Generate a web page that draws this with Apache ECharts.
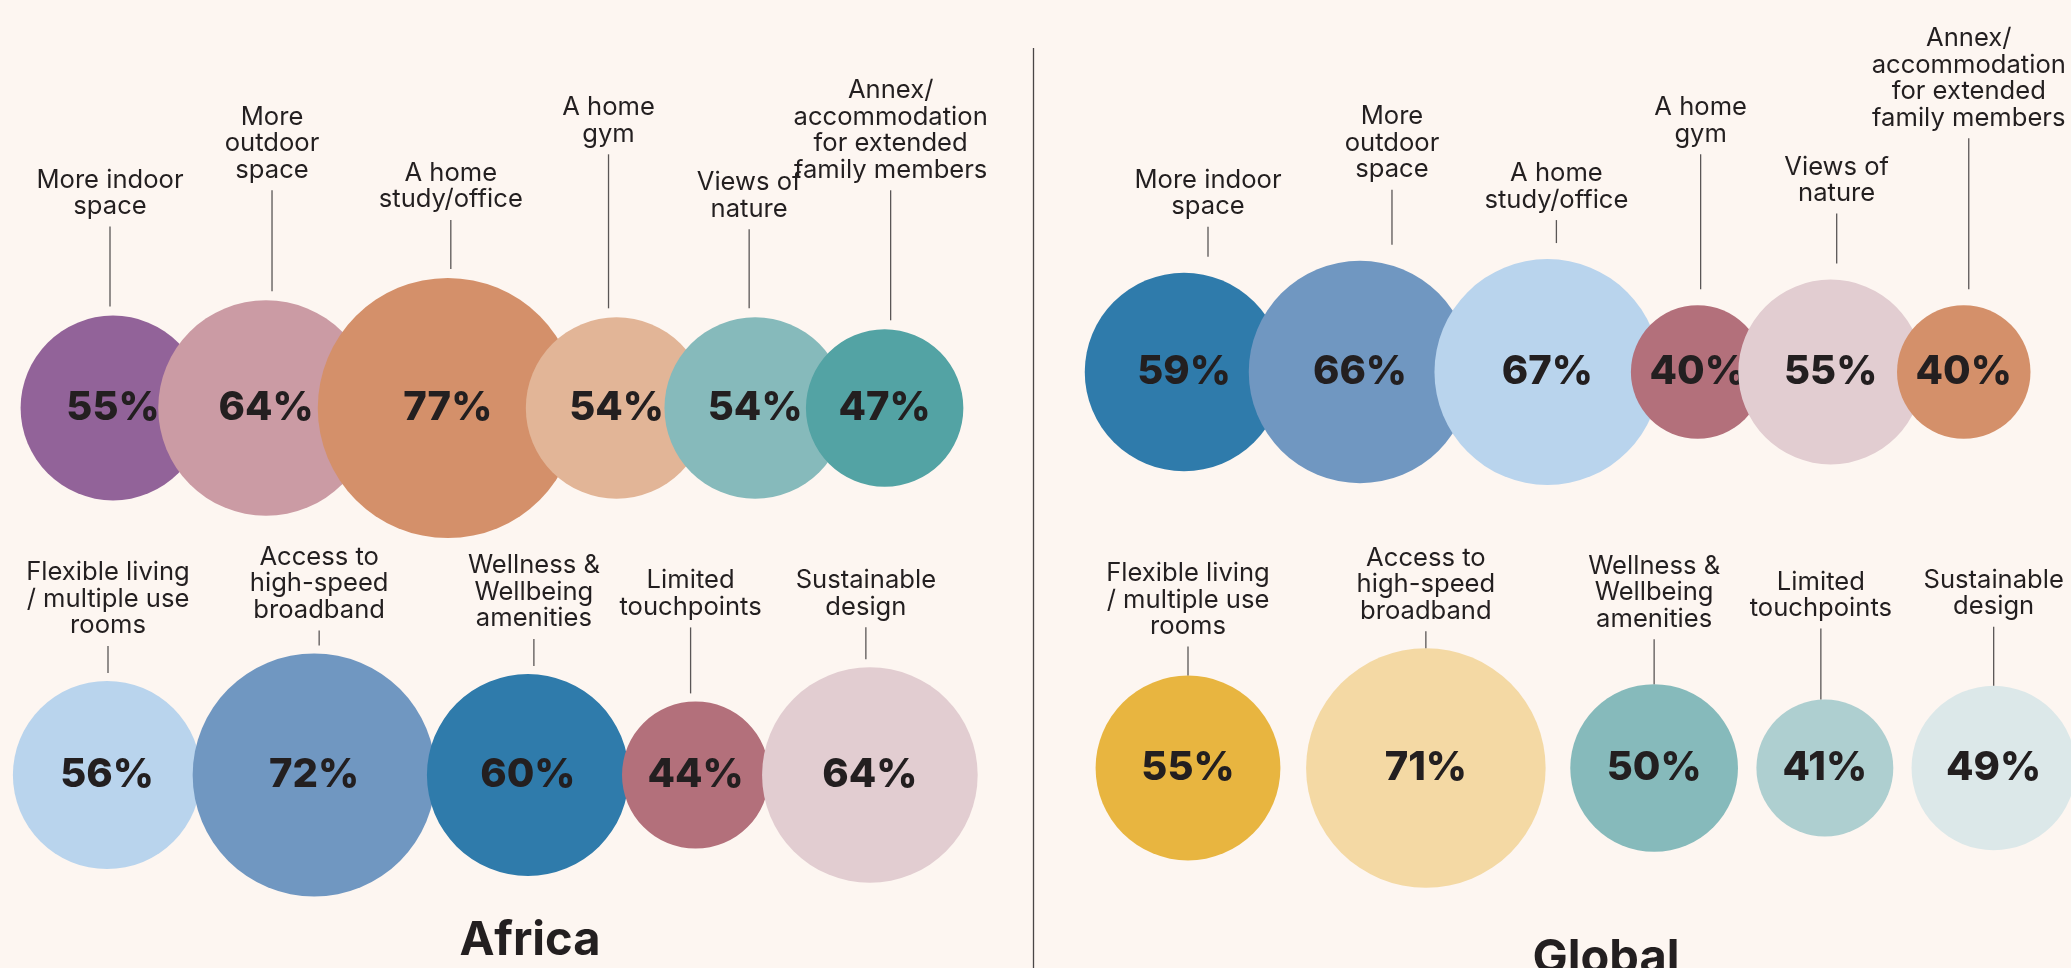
<!DOCTYPE html>
<html>
<head>
<meta charset="utf-8">
<script src="https://cdn.jsdelivr.net/npm/echarts@6/dist/echarts.min.js"></script>
<style>
html,body{margin:0;padding:0;background:#fdf6f1;}
#chart{width:2071px;height:968px;}
</style>
</head>
<body>
<div id="chart"></div>
<script>
// ---------------- DATA ----------------
const rowOneCategories = ['More indoor\nspace', 'More\noutdoor\nspace', 'A home\nstudy/office', 'A home\ngym', 'Views of\nnature', 'Annex/\naccommodation\nfor extended\nfamily members'];
const rowTwoCategories = ['Flexible living\n/ multiple use\nrooms', 'Access to\nhigh-speed\nbroadband', 'Wellness &\nWellbeing\namenities', 'Limited\ntouchpoints', 'Sustainable\ndesign'];
const africaRowOne = [55, 64, 77, 54, 54, 47];
const africaRowTwo = [56, 72, 60, 44, 64];
const globalRowOne = [59, 66, 67, 40, 55, 40];
const globalRowTwo = [55, 71, 50, 41, 49];
const panelTitles = ['Africa', 'Global'];

// ---------------- STYLE / LAYOUT ----------------
const W = 2071, H = 968;
const INK = '#231f20';
const radiusOf = v => 1.711 * v - 1.7;   // bubble radius (px) from percentage

const rows = [
  { cats: rowOneCategories, values: africaRowOne, startX: 113, cy: 408, pack: 0.7643, endGap: 9,
    lift: [102, 123, 71, 176, 101, 152], dx: [-3, 6, 3, -8, -6, 6],
    colors: ['#926399', '#cb9ba4', '#d4906a', '#e2b597', '#86babb', '#53a3a4'] },
  { cats: rowTwoCategories, values: africaRowTwo, startX: 107, cy: 775, pack: 0.9608, endGap: 8,
    lift: [48, 36, 48, 87, 53], dx: [1, 5, 6, -5, -4],
    colors: ['#b9d4ed', '#7097c1', '#2f7bab', '#b3707b', '#e2cdd1'] },
  { cats: rowOneCategories, values: globalRowOne, startX: 1184, cy: 372, pack: 0.8361, endGap: 16,
    lift: [59, 84, 52, 164, 79, 180], dx: [24, 32, 9, 3, 6, 5],
    colors: ['#2f7bab', '#7097c1', '#b9d4ed', '#b3707b', '#e2cdd1', '#d4906a'] },
  { cats: rowTwoCategories, values: globalRowTwo, startX: 1188, cy: 768, pack: 1.121, endGap: 0,
    lift: [42, 30, 58, 84, 72], dx: [0, 0, 0, -4, 0],
    colors: ['#e8b540', '#f4d9a4', '#86babb', '#aecfd0', '#dce8e9'] }
];

function packRow(row) {
  const xs = [];
  let x = row.startX;
  row.values.forEach((v, i) => {
    if (i > 0) x += row.pack * (radiusOf(row.values[i - 1]) + radiusOf(v));
    xs.push(x);
  });
  return xs.map((x, i) => [x, row.cy, row.values[i]]);
}

function makeSeries(row) {
  return {
    type: 'custom',
    coordinateSystem: 'cartesian2d',
    clip: false,
    silent: true,
    animation: false,
    data: packRow(row),
    renderItem: function (params, api) {
      const i = params.dataIndex;
      const v = api.value(2);
      const p = api.coord([api.value(0), api.value(1)]);
      const r = api.size([radiusOf(v), 0])[0];
      const top = p[1] - r;
      const lx = p[0] + row.dx[i];
      const baseline = top - row.lift[i];
      return {
        type: 'group',
        children: [
          { type: 'circle', shape: { cx: p[0], cy: p[1], r: r }, style: { fill: row.colors[i] } },
          { type: 'text', style: { x: p[0], y: p[1], text: v + '%', align: 'center', verticalAlign: 'middle',
              font: '800 40px Inter', fill: INK } },
          { type: 'line', shape: { x1: lx, y1: baseline + 13, x2: lx, y2: top - row.endGap },
            style: { stroke: '#5a5656', lineWidth: 1.3 } },
          { type: 'text', style: { x: lx, y: baseline + 6, text: row.cats[i], align: 'center', verticalAlign: 'bottom',
              font: '400 25.6px Inter', lineHeight: 26.5, fill: INK } }
        ]
      };
    }
  };
}

const chart = echarts.init(document.getElementById('chart'), null, { renderer: 'canvas' });
chart.setOption({
  backgroundColor: '#fdf6f1',
  animation: false,
  title: [
    { text: panelTitles[0], left: 525, top: 912, textAlign: 'center',
      textStyle: { fontFamily: 'Inter', fontWeight: 700, fontSize: 47, color: INK } },
    { text: panelTitles[1], left: 1601, top: 930, textAlign: 'center',
      textStyle: { fontFamily: 'Inter', fontWeight: 700, fontSize: 47, color: INK } }
  ],
  grid: { left: 0, right: 0, top: 0, bottom: 0 },
  xAxis: { type: 'value', min: 0, max: W, show: false },
  yAxis: { type: 'value', min: 0, max: H, inverse: true, show: false },
  graphic: [
    { type: 'line', shape: { x1: 1033.5, y1: 48, x2: 1033.5, y2: H }, style: { stroke: '#4a4646', lineWidth: 1.3 } }
  ],
  series: rows.map(makeSeries)
});
</script>
</body>
</html>
